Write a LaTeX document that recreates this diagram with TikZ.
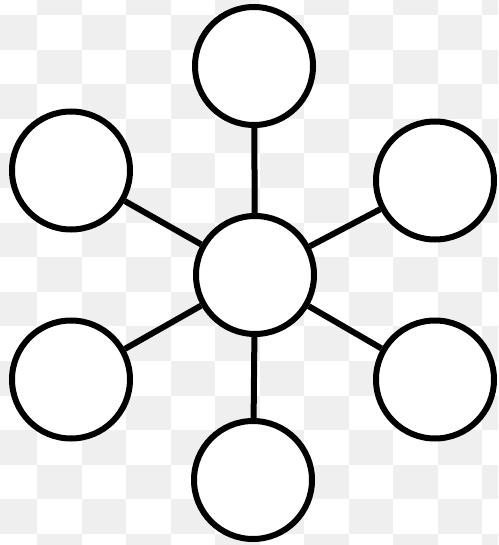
\documentclass[tikz,border=0pt]{standalone}
\definecolor{checkgrey}{RGB}{239,239,239}
\tikzset{
  ball/.style={circle, draw=black, fill=white, line width=6pt, minimum size=118pt, inner sep=0pt},
  link/.style={line width=6pt, draw=black}
}
\begin{document}
\begin{tikzpicture}[x=1pt, y=-1pt]
\useasboundingbox (0,0) rectangle (498,545);
\begin{scope}
  \clip (0,0) rectangle (498,545);
  \fill[white] (0,0) rectangle (498,545);
  \foreach \i in {0,...,11} {
    \foreach \j in {0,...,16} {
      \pgfmathtruncatemacro{\myparity}{mod(\i+\j,2)}
      \ifnum\myparity=1
        \fill[checkgrey] ({-7.5+44.5*\i},{-19.6+34.6*\j}) rectangle ({-7.5+44.5*(\i+1)},{-19.6+34.6*(\j+1)});
      \fi
    }
  }
\end{scope}
\node[ball] (c)  at (255,275) {};
\node[ball] (t)  at (254,66) {};
\node[ball] (b)  at (253,480) {};
\node[ball] (lt) at (71,170.5) {};
\node[ball] (rt) at (435,180.5) {};
\node[ball] (lb) at (71,379.5) {};
\node[ball] (rb) at (435,379.5) {};
\draw[link] (c) -- (t);
\draw[link] (c) -- (b);
\draw[link] (c) -- (lt);
\draw[link] (c) -- (rt);
\draw[link] (c) -- (lb);
\draw[link] (c) -- (rb);
\end{tikzpicture}
\end{document}
